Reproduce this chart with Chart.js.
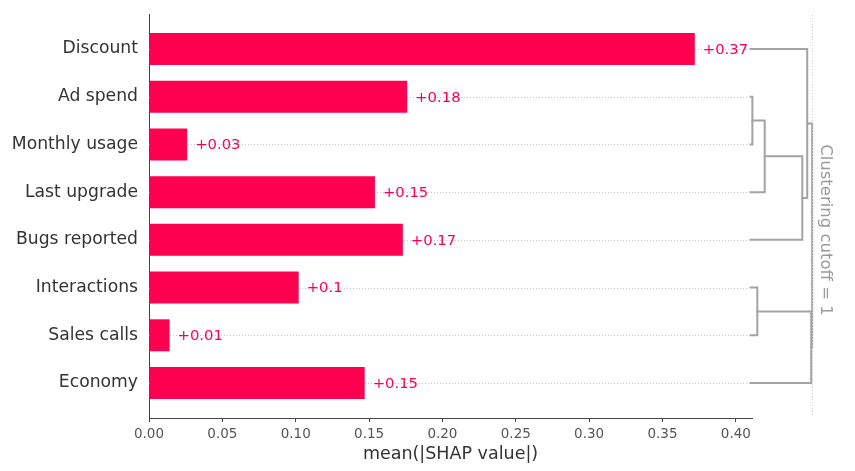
<!DOCTYPE html>
<html>
<head>
<meta charset="utf-8">
<script src="https://cdn.jsdelivr.net/npm/chart.js@4"></script>
<style>
  html, body { margin: 0; padding: 0; background: #fff; }
  canvas { display: block; }
</style>
</head>
<body>
<canvas id="chart" width="855" height="471"></canvas>
<script>
// features in plot order, top to bottom
const features = ['Discount', 'Ad spend', 'Monthly usage', 'Last upgrade', 'Bugs reported', 'Interactions', 'Sales calls', 'Economy'];
const meanShap = [0.372, 0.176, 0.026, 0.154, 0.173, 0.102, 0.014, 0.147];
const xTicks = [0, 0.05, 0.10, 0.15, 0.20, 0.25, 0.30, 0.35, 0.40];

// hierarchical clustering: [child a, child b, distance], new nodes numbered from 8
const merges = [
  [1, 2, 0.03],
  [8, 3, 0.23],
  [9, 4, 0.84],
  [0, 10, 0.92],
  [5, 6, 0.11],
  [12, 7, 0.985],
  [11, 13, 1.0],
];
const clusterCutoff = 1;

const FONT = 'DejaVu Sans';
const RED = '#ff0051';
const X_MAX = 0.411;
const DENDRO_SCALE = 0.042; // distance units -> x units

function fmtValue(v) {
  return '+' + parseFloat(v.toFixed(2));
}

const shapExtras = {
  id: 'shapExtras',
  beforeDatasetsDraw(chart) {
    const { ctx, chartArea, scales: { y } } = chart;
    ctx.save();
    ctx.strokeStyle = '#c4c4c4';
    ctx.lineWidth = 1;
    ctx.setLineDash([1, 2]);
    features.forEach((f, i) => {
      const py = Math.round(y.getPixelForValue(i)) + 0.5;
      ctx.beginPath();
      ctx.moveTo(chartArea.left, py);
      ctx.lineTo(chartArea.right - 4, py);
      ctx.stroke();
    });
    ctx.restore();
  },
  afterDatasetsDraw(chart) {
    const { ctx, chartArea, scales: { x, y } } = chart;
    ctx.save();

    // value labels
    ctx.font = `14.8px "${FONT}"`;
    ctx.fillStyle = RED;
    ctx.textAlign = 'left';
    ctx.textBaseline = 'middle';
    meanShap.forEach((v, i) => {
      ctx.fillText(fmtValue(v), x.getPixelForValue(v) + 8, y.getPixelForValue(i) + 1);
    });

    // dendrogram
    const dx = (d) => x.getPixelForValue(X_MAX - 0.001 + d * DENDRO_SCALE);
    const nodes = features.map((f, i) => ({ d: 0, y: i }));
    ctx.strokeStyle = '#a3a3a3';
    ctx.lineWidth = 2;
    ctx.lineCap = 'square';
    merges.forEach(([a, b, dist]) => {
      const na = nodes[a], nb = nodes[b];
      const xm = dx(dist);
      ctx.beginPath();
      ctx.moveTo(dx(na.d), y.getPixelForValue(na.y));
      ctx.lineTo(xm, y.getPixelForValue(na.y));
      ctx.lineTo(xm, y.getPixelForValue(nb.y));
      ctx.lineTo(dx(nb.d), y.getPixelForValue(nb.y));
      ctx.stroke();
      nodes.push({ d: dist, y: (na.y + nb.y) / 2 });
    });

    // cutoff line and label
    const cx = Math.round(dx(clusterCutoff)) + 0.5;
    ctx.strokeStyle = '#cfcfcf';
    ctx.lineWidth = 1;
    ctx.lineCap = 'butt';
    ctx.setLineDash([1, 2]);
    ctx.beginPath();
    ctx.moveTo(cx, chartArea.top + 1);
    ctx.lineTo(cx, chartArea.bottom - 3);
    ctx.stroke();

    ctx.translate(cx + 13, (chartArea.top + chartArea.bottom) / 2 + 14);
    ctx.rotate(Math.PI / 2);
    ctx.font = `16.5px "${FONT}"`;
    ctx.fillStyle = '#9a9a9a';
    ctx.textAlign = 'center';
    ctx.textBaseline = 'middle';
    ctx.fillText(`Clustering cutoff = ${clusterCutoff}`, 0, 0);
    ctx.restore();
  }
};

new Chart(document.getElementById('chart'), {
  type: 'bar',
  data: {
    datasets: [{
      data: meanShap.map((v, i) => ({ x: v, y: i })),
      backgroundColor: RED,
      categoryPercentage: 1,
      barPercentage: 0.67,
    }]
  },
  options: {
    indexAxis: 'y',
    responsive: false,
    animation: false,
    layout: { padding: { left: 10, right: 103, top: 14, bottom: 0 } },
    plugins: {
      legend: { display: false },
      tooltip: { enabled: false }
    },
    scales: {
      x: {
        type: 'linear',
        min: 0,
        max: X_MAX,
        afterBuildTicks: (s) => { s.ticks = xTicks.map((v) => ({ value: v })); },
        afterFit: (s) => { s.height = 53; },
        ticks: {
          callback: (v) => Number(v).toFixed(2),
          color: '#555',
          font: { family: FONT, size: 13.5 },
          padding: 4,
          maxRotation: 0,
          autoSkip: false
        },
        grid: { drawOnChartArea: false, tickLength: 4, color: '#444' },
        border: { color: '#444' },
        title: {
          display: true,
          text: 'mean(|SHAP value|)',
          color: '#333',
          font: { family: FONT, size: 17.5 },
          padding: { top: 2, bottom: 6 }
        }
      },
      y: {
        type: 'linear',
        reverse: true,
        offset: false,
        min: -0.734,
        max: 7.734,
        afterBuildTicks: (s) => { s.ticks = features.map((f, i) => ({ value: i })); },
        afterFit: (s) => { s.width = 139; s.paddingTop = 0; s.paddingBottom = 0; },
        ticks: {
          callback: (v) => features[v],
          color: '#333',
          font: { family: FONT, size: 17.2 },
          padding: 11,
          autoSkip: false
        },
        grid: { display: false, drawTicks: false },
        border: { display: true, color: '#444' }
      }
    }
  },
  plugins: [shapExtras]
});
</script>
</body>
</html>
